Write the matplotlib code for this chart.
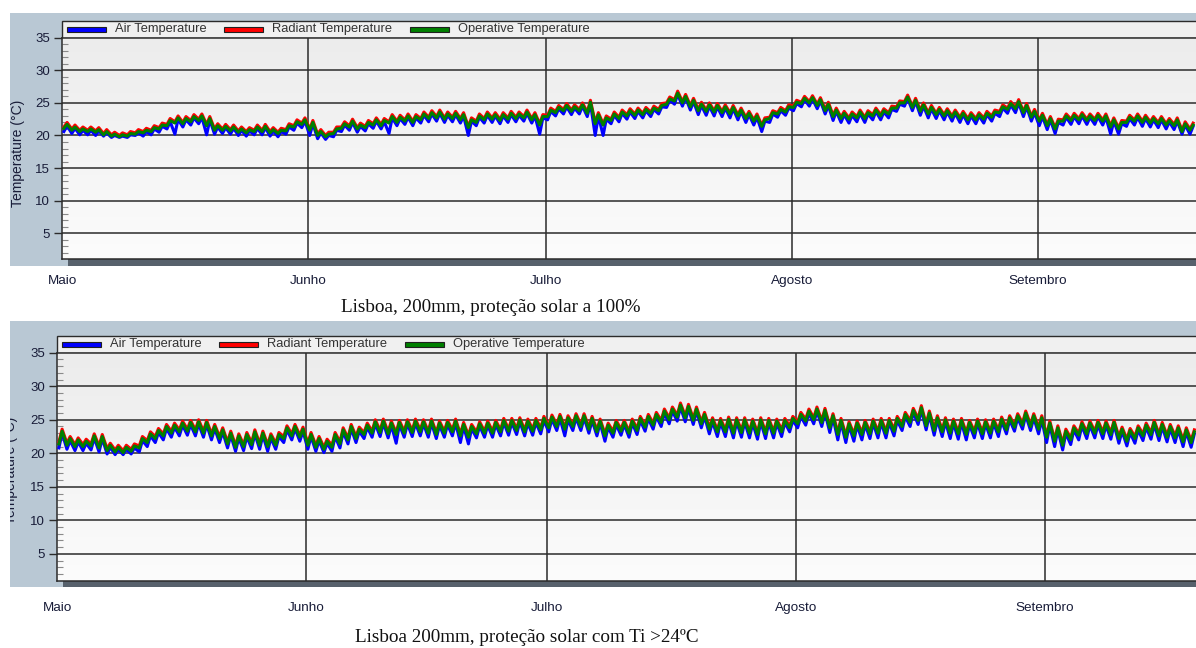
import numpy as np
import matplotlib
matplotlib.use("Agg")
import matplotlib.pyplot as plt
from matplotlib.patches import Rectangle
from matplotlib.colors import LinearSegmentedColormap
from matplotlib.transforms import blended_transform_factory

plt.rcParams["font.family"] = ["Liberation Sans", "DejaVu Sans"]

# ---------------------------------------------------------------------------
# Data: daily low / high of each temperature (degC), day 0 = 1 May
# ---------------------------------------------------------------------------
MONTHS = ["Maio", "Junho", "Julho", "Agosto", "Setembro"]
MONTH_START = [0, 31, 61, 92, 123]
SERIES_NAMES = ["Air Temperature", "Radiant Temperature", "Operative Temperature"]

# Top chart: Lisboa, 200mm, proteção solar a 100%
TOP_AIR_LO = [
    20.6, 20.3, 20.1, 20.1, 20.0, 19.9, 19.7, 19.7, 19.7, 20.0,
    19.9, 20.1, 20.5, 21.0, 20.2, 21.3, 21.6, 21.8, 20.1, 20.2,
    20.3, 20.2, 20.0, 19.9, 20.1, 20.1, 19.9, 19.8, 20.2, 20.8,
    21.2, 20.0, 19.5, 19.4, 19.8, 20.6, 20.8, 20.5, 20.7, 21.1,
    21.0, 20.3, 21.5, 21.7, 21.5, 21.9, 22.1, 22.2, 22.0, 22.1,
    21.9, 20.0, 21.5, 21.9, 22.0, 21.8, 22.0, 22.1, 22.2, 21.9,
    20.2, 22.4, 23.0, 23.3, 23.2, 23.3, 22.9, 20.0, 20.0, 21.8,
    22.1, 22.5, 22.6, 22.7, 22.9, 23.3, 24.3, 24.8, 24.5, 23.9,
    23.2, 23.1, 23.0, 22.9, 22.7, 22.4, 22.0, 21.6, 20.6, 22.0,
    22.8, 23.1, 23.8, 24.4, 24.5, 24.1, 23.3, 22.3, 22.0, 21.9,
    22.1, 22.0, 22.4, 22.4, 22.7, 23.7, 24.5, 23.8, 23.1, 22.7,
    22.6, 22.4, 22.2, 22.0, 21.8, 21.8, 21.9, 22.2, 22.9, 23.4,
    23.5, 22.9, 22.2, 21.5, 20.9, 20.3, 21.6, 21.7, 21.8, 21.7,
    21.7, 21.6, 20.2, 20.2, 21.4, 21.6, 21.4, 21.3, 21.2, 21.0,
    20.9, 20.2, 20.2]
TOP_AIR_HI = [
    21.5, 21.1, 20.8, 20.8, 20.7, 20.4, 20.0, 19.9, 20.1, 20.4,
    20.6, 21.0, 21.4, 22.1, 22.5, 22.4, 22.7, 22.8, 22.4, 21.3,
    21.2, 21.1, 20.8, 20.7, 21.1, 21.2, 20.7, 20.6, 21.3, 21.9,
    22.2, 21.8, 20.4, 20.0, 20.8, 21.6, 22.0, 21.4, 21.8, 22.2,
    22.1, 22.7, 22.6, 22.8, 22.7, 23.1, 23.3, 23.4, 23.1, 23.2,
    23.0, 22.2, 22.8, 23.1, 23.0, 23.0, 23.2, 23.1, 23.4, 23.0,
    22.7, 23.7, 24.1, 24.4, 24.2, 24.5, 24.9, 23.0, 22.5, 23.1,
    23.4, 23.6, 23.7, 23.8, 24.0, 24.4, 25.4, 26.3, 25.8, 25.2,
    24.6, 24.5, 24.4, 24.2, 24.1, 23.7, 23.2, 22.8, 22.2, 23.3,
    23.8, 24.2, 24.9, 25.5, 25.6, 25.3, 24.6, 23.7, 23.2, 23.1,
    23.4, 23.3, 23.7, 23.6, 24.0, 24.8, 25.7, 25.2, 24.5, 24.1,
    23.8, 23.6, 23.4, 23.2, 23.0, 23.0, 23.2, 23.4, 24.2, 24.7,
    25.0, 24.4, 23.5, 22.9, 22.4, 22.0, 22.8, 22.9, 23.0, 22.8,
    22.9, 22.8, 22.2, 21.8, 22.6, 22.8, 22.6, 22.4, 22.4, 22.1,
    22.2, 21.6, 21.4]
TOP_RAD_LO = [
    21.3, 21.0, 20.8, 20.8, 20.7, 20.3, 20.1, 20.0, 20.1, 20.4,
    20.6, 20.8, 21.2, 21.7, 22.1, 22.0, 22.3, 22.5, 21.7, 21.0,
    21.0, 20.9, 20.7, 20.6, 20.8, 20.8, 20.6, 20.5, 20.9, 21.5,
    21.9, 21.0, 20.2, 20.0, 20.5, 21.3, 21.5, 21.2, 21.4, 21.8,
    21.7, 22.1, 22.2, 22.4, 22.2, 22.6, 22.8, 22.9, 22.7, 22.8,
    22.6, 21.4, 22.2, 22.6, 22.7, 22.5, 22.7, 22.8, 22.9, 22.6,
    21.8, 23.1, 23.7, 24.0, 23.9, 24.0, 23.6, 22.0, 21.8, 22.5,
    22.8, 23.2, 23.3, 23.4, 23.6, 24.0, 25.0, 25.5, 25.2, 24.6,
    24.0, 23.9, 23.8, 23.7, 23.5, 23.2, 22.8, 22.4, 21.6, 22.8,
    23.5, 23.8, 24.5, 25.1, 25.2, 24.8, 24.0, 23.1, 22.8, 22.7,
    22.9, 22.8, 23.2, 23.2, 23.5, 24.4, 25.2, 24.5, 23.9, 23.5,
    23.4, 23.2, 23.0, 22.8, 22.6, 22.6, 22.7, 23.0, 23.7, 24.2,
    24.3, 23.7, 23.0, 22.4, 21.7, 21.2, 22.4, 22.5, 22.6, 22.5,
    22.5, 22.4, 21.5, 21.2, 22.2, 22.4, 22.2, 22.1, 22.0, 21.8,
    21.7, 20.8, 21.0]
TOP_RAD_HI = [
    22.0, 21.6, 21.3, 21.3, 21.2, 20.9, 20.5, 20.4, 20.6, 20.9,
    21.1, 21.5, 21.9, 22.6, 23.0, 22.9, 23.2, 23.3, 22.9, 21.8,
    21.7, 21.6, 21.3, 21.2, 21.6, 21.7, 21.2, 21.1, 21.8, 22.4,
    22.7, 22.3, 20.9, 20.5, 21.3, 22.1, 22.5, 21.9, 22.3, 22.7,
    22.6, 23.2, 23.1, 23.3, 23.2, 23.6, 23.8, 23.9, 23.6, 23.7,
    23.5, 22.7, 23.3, 23.6, 23.5, 23.5, 23.7, 23.6, 23.9, 23.5,
    23.2, 24.2, 24.6, 24.9, 24.7, 25.0, 25.4, 23.5, 23.0, 23.6,
    23.9, 24.1, 24.2, 24.3, 24.5, 24.9, 25.9, 26.8, 26.3, 25.7,
    25.1, 25.0, 24.9, 24.7, 24.6, 24.2, 23.7, 23.3, 22.7, 23.8,
    24.3, 24.7, 25.4, 26.0, 26.1, 25.8, 25.1, 24.2, 23.7, 23.6,
    23.9, 23.8, 24.2, 24.1, 24.5, 25.3, 26.2, 25.7, 25.0, 24.6,
    24.3, 24.1, 23.9, 23.7, 23.5, 23.5, 23.7, 23.9, 24.7, 25.2,
    25.5, 24.9, 24.0, 23.4, 22.9, 22.5, 23.3, 23.4, 23.5, 23.3,
    23.4, 23.3, 22.7, 22.3, 23.1, 23.3, 23.1, 22.9, 22.9, 22.6,
    22.7, 22.1, 21.9]
TOP_OP_LO = [
    21.1, 20.8, 20.6, 20.6, 20.5, 20.1, 19.9, 19.8, 19.9, 20.2,
    20.4, 20.6, 21.0, 21.5, 21.9, 21.8, 22.1, 22.3, 21.5, 20.8,
    20.8, 20.7, 20.5, 20.4, 20.6, 20.6, 20.4, 20.3, 20.7, 21.3,
    21.7, 20.8, 20.0, 19.8, 20.3, 21.1, 21.3, 21.0, 21.2, 21.6,
    21.5, 21.9, 22.0, 22.2, 22.0, 22.4, 22.6, 22.7, 22.5, 22.6,
    22.4, 21.2, 22.0, 22.4, 22.5, 22.3, 22.5, 22.6, 22.7, 22.4,
    21.6, 22.9, 23.5, 23.8, 23.7, 23.8, 23.4, 21.8, 21.6, 22.3,
    22.6, 23.0, 23.1, 23.2, 23.4, 23.8, 24.8, 25.3, 25.0, 24.4,
    23.8, 23.7, 23.6, 23.5, 23.3, 23.0, 22.6, 22.2, 21.4, 22.6,
    23.3, 23.6, 24.3, 24.9, 25.0, 24.6, 23.8, 22.9, 22.6, 22.5,
    22.7, 22.6, 23.0, 23.0, 23.3, 24.2, 25.0, 24.3, 23.7, 23.3,
    23.2, 23.0, 22.8, 22.6, 22.4, 22.4, 22.5, 22.8, 23.5, 24.0,
    24.1, 23.5, 22.8, 22.2, 21.5, 21.0, 22.2, 22.3, 22.4, 22.3,
    22.3, 22.2, 21.3, 21.0, 22.0, 22.2, 22.0, 21.9, 21.8, 21.6,
    21.5, 20.6, 20.8]
TOP_OP_HI = [
    21.7, 21.3, 21.0, 21.0, 20.9, 20.6, 20.2, 20.1, 20.3, 20.6,
    20.8, 21.2, 21.6, 22.3, 22.7, 22.6, 22.9, 23.0, 22.6, 21.5,
    21.4, 21.3, 21.0, 20.9, 21.3, 21.4, 20.9, 20.8, 21.5, 22.1,
    22.4, 22.0, 20.6, 20.2, 21.0, 21.8, 22.2, 21.6, 22.0, 22.4,
    22.3, 22.9, 22.8, 23.0, 22.9, 23.3, 23.5, 23.6, 23.3, 23.4,
    23.2, 22.4, 23.0, 23.3, 23.2, 23.2, 23.4, 23.3, 23.6, 23.2,
    22.9, 23.9, 24.3, 24.6, 24.4, 24.7, 25.1, 23.2, 22.7, 23.3,
    23.6, 23.8, 23.9, 24.0, 24.2, 24.6, 25.6, 26.5, 26.0, 25.4,
    24.8, 24.7, 24.6, 24.4, 24.3, 23.9, 23.4, 23.0, 22.4, 23.5,
    24.0, 24.4, 25.1, 25.7, 25.8, 25.5, 24.8, 23.9, 23.4, 23.3,
    23.6, 23.5, 23.9, 23.8, 24.2, 25.0, 25.9, 25.4, 24.7, 24.3,
    24.0, 23.8, 23.6, 23.4, 23.2, 23.2, 23.4, 23.6, 24.4, 24.9,
    25.2, 24.6, 23.7, 23.1, 22.6, 22.2, 23.0, 23.1, 23.2, 23.0,
    23.1, 23.0, 22.4, 22.0, 22.8, 23.0, 22.8, 22.6, 22.6, 22.3,
    22.4, 21.8, 21.6]

# Bottom chart: Lisboa 200mm, proteção solar com Ti >24ºC
BOT_AIR_LO = [
    20.8, 20.6, 20.4, 20.4, 20.5, 20.2, 19.9, 19.8, 19.8, 19.9,
    20.2, 21.0, 21.6, 22.0, 22.4, 22.6, 22.7, 22.6, 22.4, 22.0,
    21.6, 20.8, 20.3, 20.4, 20.7, 20.6, 20.3, 20.6, 21.6, 22.0,
    21.8, 20.6, 20.3, 20.1, 20.3, 20.8, 21.4, 21.6, 22.2, 22.4,
    22.5, 22.3, 21.5, 22.4, 22.5, 22.6, 22.4, 22.2, 22.4, 22.6,
    21.6, 21.4, 22.3, 22.4, 22.4, 22.6, 22.7, 22.8, 22.6, 22.7,
    22.9, 23.2, 23.4, 22.6, 23.4, 23.4, 23.0, 22.6, 21.8, 22.4,
    22.7, 22.4, 22.8, 23.3, 23.6, 24.0, 24.4, 24.8, 24.7, 24.3,
    23.8, 22.9, 22.5, 22.5, 22.3, 22.4, 22.3, 22.1, 22.2, 22.3,
    22.5, 23.2, 23.8, 24.2, 24.4, 24.0, 23.1, 22.0, 21.6, 21.8,
    22.0, 22.2, 22.3, 22.3, 22.6, 23.4, 24.0, 24.3, 23.5, 22.7,
    22.5, 22.2, 22.1, 22.0, 22.3, 22.2, 22.3, 22.5, 22.9, 23.3,
    23.6, 23.4, 22.9, 21.6, 21.0, 20.5, 21.3, 22.0, 22.2, 22.3,
    22.2, 22.1, 21.5, 21.1, 21.5, 21.9, 22.1, 21.9, 21.7, 21.6,
    21.0, 20.9]
BOT_AIR_HI = [
    23.0, 21.9, 21.7, 21.5, 22.3, 22.2, 20.9, 20.6, 20.6, 20.8,
    21.9, 22.6, 23.1, 23.7, 23.9, 24.2, 24.3, 24.4, 24.3, 23.7,
    23.2, 22.7, 22.3, 22.5, 22.9, 22.7, 22.3, 22.5, 23.5, 23.7,
    23.3, 22.5, 21.9, 21.5, 22.5, 23.2, 23.7, 23.3, 23.9, 24.4,
    24.5, 24.2, 24.3, 24.4, 24.5, 24.4, 24.5, 24.2, 24.3, 24.5,
    24.0, 23.7, 24.1, 24.2, 24.3, 24.6, 24.6, 24.7, 24.5, 24.6,
    24.9, 25.1, 25.2, 25.0, 25.3, 25.3, 24.9, 24.5, 23.9, 24.3,
    24.3, 24.5, 24.9, 25.2, 25.5, 26.0, 26.3, 26.9, 26.7, 26.3,
    25.5, 24.7, 24.6, 24.8, 24.7, 24.7, 24.5, 24.7, 24.6, 24.5,
    24.6, 24.9, 25.5, 26.0, 26.3, 26.1, 25.3, 24.6, 24.1, 24.2,
    24.3, 24.5, 24.6, 24.6, 24.9, 25.5, 26.1, 26.5, 25.7, 25.0,
    24.7, 24.5, 24.6, 24.3, 24.5, 24.4, 24.5, 24.8, 25.0, 25.3,
    25.7, 25.3, 25.0, 24.2, 23.5, 23.0, 23.5, 24.1, 24.2, 24.3,
    24.2, 24.3, 23.3, 23.1, 23.5, 23.9, 24.3, 24.0, 23.7, 23.5,
    23.2, 22.9]
BOT_RAD_LO = [
    21.7, 21.5, 21.3, 21.3, 21.4, 21.1, 20.7, 20.5, 20.4, 20.6,
    21.1, 21.9, 22.5, 22.9, 23.3, 23.5, 23.6, 23.5, 23.3, 22.9,
    22.5, 21.7, 21.2, 21.3, 21.6, 21.5, 21.3, 21.5, 22.5, 22.9,
    22.7, 21.5, 21.2, 20.9, 21.2, 21.7, 22.3, 22.5, 23.1, 23.3,
    23.4, 23.2, 23.1, 23.3, 23.4, 23.5, 23.3, 23.1, 23.3, 23.5,
    22.9, 22.7, 23.2, 23.3, 23.3, 23.5, 23.6, 23.7, 23.5, 23.6,
    23.8, 24.1, 24.3, 23.9, 24.3, 24.3, 23.9, 23.5, 22.9, 23.3,
    23.6, 23.3, 23.7, 24.2, 24.5, 24.9, 25.3, 25.7, 25.6, 25.2,
    24.7, 23.9, 23.5, 23.5, 23.3, 23.4, 23.3, 23.1, 23.2, 23.3,
    23.5, 24.1, 24.7, 25.1, 25.3, 24.9, 24.1, 23.1, 22.7, 22.9,
    23.1, 23.2, 23.3, 23.3, 23.6, 24.3, 24.9, 25.2, 24.4, 23.7,
    23.5, 23.3, 23.2, 23.1, 23.3, 23.2, 23.3, 23.5, 23.8, 24.2,
    24.5, 24.3, 23.9, 22.7, 22.1, 21.5, 22.3, 23.0, 23.2, 23.3,
    23.2, 23.1, 22.5, 22.1, 22.5, 22.9, 23.1, 22.9, 22.7, 22.6,
    22.0, 21.9]
BOT_RAD_HI = [
    23.6, 22.5, 22.3, 22.1, 22.9, 22.8, 21.5, 21.2, 21.2, 21.4,
    22.5, 23.2, 23.7, 24.3, 24.5, 24.8, 24.9, 25.0, 24.9, 24.3,
    23.8, 23.3, 22.9, 23.1, 23.5, 23.3, 22.9, 23.1, 24.1, 24.3,
    23.9, 23.1, 22.5, 22.1, 23.1, 23.8, 24.3, 23.9, 24.5, 25.0,
    25.1, 24.8, 24.9, 25.0, 25.1, 25.0, 25.1, 24.8, 24.9, 25.1,
    24.6, 24.3, 24.7, 24.8, 24.9, 25.2, 25.2, 25.3, 25.1, 25.2,
    25.5, 25.7, 25.8, 25.6, 25.9, 25.9, 25.5, 25.1, 24.5, 24.9,
    24.9, 25.1, 25.5, 25.8, 26.1, 26.6, 26.9, 27.5, 27.3, 26.9,
    26.1, 25.3, 25.2, 25.4, 25.3, 25.3, 25.1, 25.3, 25.2, 25.1,
    25.2, 25.5, 26.1, 26.6, 26.9, 26.7, 25.9, 25.2, 24.7, 24.8,
    24.9, 25.1, 25.2, 25.2, 25.5, 26.1, 26.7, 27.1, 26.3, 25.6,
    25.3, 25.1, 25.2, 24.9, 25.1, 25.0, 25.1, 25.4, 25.6, 25.9,
    26.3, 25.9, 25.6, 24.8, 24.1, 23.6, 24.1, 24.7, 24.8, 24.9,
    24.8, 24.9, 23.9, 23.7, 24.1, 24.5, 24.9, 24.6, 24.3, 24.1,
    23.8, 23.5]
BOT_OP_LO = [
    21.4, 21.2, 21.0, 21.0, 21.1, 20.8, 20.4, 20.2, 20.1, 20.3,
    20.8, 21.6, 22.2, 22.6, 23.0, 23.2, 23.3, 23.2, 23.0, 22.6,
    22.2, 21.4, 20.9, 21.0, 21.3, 21.2, 21.0, 21.2, 22.2, 22.6,
    22.4, 21.2, 20.9, 20.6, 20.9, 21.4, 22.0, 22.2, 22.8, 23.0,
    23.1, 22.9, 22.8, 23.0, 23.1, 23.2, 23.0, 22.8, 23.0, 23.2,
    22.6, 22.4, 22.9, 23.0, 23.0, 23.2, 23.3, 23.4, 23.2, 23.3,
    23.5, 23.8, 24.0, 23.6, 24.0, 24.0, 23.6, 23.2, 22.6, 23.0,
    23.3, 23.0, 23.4, 23.9, 24.2, 24.6, 25.0, 25.4, 25.3, 24.9,
    24.4, 23.6, 23.2, 23.2, 23.0, 23.1, 23.0, 22.8, 22.9, 23.0,
    23.2, 23.8, 24.4, 24.8, 25.0, 24.6, 23.8, 22.8, 22.4, 22.6,
    22.8, 22.9, 23.0, 23.0, 23.3, 24.0, 24.6, 24.9, 24.1, 23.4,
    23.2, 23.0, 22.9, 22.8, 23.0, 22.9, 23.0, 23.2, 23.5, 23.9,
    24.2, 24.0, 23.6, 22.4, 21.8, 21.2, 22.0, 22.7, 22.9, 23.0,
    22.9, 22.8, 22.2, 21.8, 22.2, 22.6, 22.8, 22.6, 22.4, 22.3,
    21.7, 21.6]
BOT_OP_HI = [
    23.3, 22.2, 22.0, 21.8, 22.6, 22.5, 21.2, 20.9, 20.9, 21.1,
    22.2, 22.9, 23.4, 24.0, 24.2, 24.5, 24.6, 24.7, 24.6, 24.0,
    23.5, 23.0, 22.6, 22.8, 23.2, 23.0, 22.6, 22.8, 23.8, 24.0,
    23.6, 22.8, 22.2, 21.8, 22.8, 23.5, 24.0, 23.6, 24.2, 24.7,
    24.8, 24.5, 24.6, 24.7, 24.8, 24.7, 24.8, 24.5, 24.6, 24.8,
    24.3, 24.0, 24.4, 24.5, 24.6, 24.9, 24.9, 25.0, 24.8, 24.9,
    25.2, 25.4, 25.5, 25.3, 25.6, 25.6, 25.2, 24.8, 24.2, 24.6,
    24.6, 24.8, 25.2, 25.5, 25.8, 26.3, 26.6, 27.2, 27.0, 26.6,
    25.8, 25.0, 24.9, 25.1, 25.0, 25.0, 24.8, 25.0, 24.9, 24.8,
    24.9, 25.2, 25.8, 26.3, 26.6, 26.4, 25.6, 24.9, 24.4, 24.5,
    24.6, 24.8, 24.9, 24.9, 25.2, 25.8, 26.4, 26.8, 26.0, 25.3,
    25.0, 24.8, 24.9, 24.6, 24.8, 24.7, 24.8, 25.1, 25.3, 25.6,
    26.0, 25.6, 25.3, 24.5, 23.8, 23.3, 23.8, 24.4, 24.5, 24.6,
    24.5, 24.6, 23.6, 23.4, 23.8, 24.2, 24.6, 24.3, 24.0, 23.8,
    23.5, 23.2]

# ---------------------------------------------------------------------------
# Layout (pixels of the 1196 x 648 picture)
# ---------------------------------------------------------------------------
W, H = 1196, 648
COLORS = ["#0000ff", "#ff0000", "#008000"]
BG_COLOR = "#b9c8d4"
INK = "#181c38"
GRID = "#2b2b2b"


def fx(x):
    return x / W


def fy(y):
    return 1 - y / H


def add_series(ax, lo, hi, color, z):
    """Draw one series as alternating night low / afternoon high."""
    days = np.arange(len(lo))
    t = np.empty(2 * len(lo))
    v = np.empty(2 * len(lo))
    t[0::2] = days + 0.2
    t[1::2] = days + 0.6
    v[0::2] = lo
    v[1::2] = hi
    ax.plot(t, v, color=color, lw=2.2, zorder=z)


def draw_panel(fig, left, top, bottom, bg_top, bg_bottom, px_day, series,
               caption, cap_x, cap_y, month_y, label_x, label_y):

    # Blue-grey frame
    bg = Rectangle((fx(10), fy(bg_bottom)), 1 - fx(10), fy(bg_top) - fy(bg_bottom),
                   transform=fig.transFigure, facecolor=BG_COLOR,
                   edgecolor="none", zorder=-2)
    fig.add_artist(bg)

    # Dark shadow bar under the plot
    fig.add_artist(Rectangle((fx(left + 6), fy(bg_bottom)), 1 - fx(left + 6),
                             fy(bottom) - fy(bg_bottom), transform=fig.transFigure,
                             facecolor="#57616c", edgecolor="none", zorder=-1))

    # Legend strip above the plot
    leg_top = top - 16.5
    fig.add_artist(Rectangle((fx(left), fy(top)), 1.2 - fx(left), fy(leg_top) - fy(top),
                             transform=fig.transFigure, facecolor="#f0f0f0",
                             edgecolor=GRID, lw=1.0, zorder=-1))
    leg_y = (top + leg_top) / 2
    for k, name in enumerate(SERIES_NAMES):
        x0 = left + [4.5, 161.5, 347.5][k]
        fig.add_artist(Rectangle((fx(x0), fy(leg_y + 2.8)), fx(39), 5.6 / H,
                                 transform=fig.transFigure, facecolor=COLORS[k],
                                 edgecolor="#202020", lw=0.8, zorder=2))
        fig.text(fx(x0 + 48), fy(leg_y), name, fontsize=9.3, color="#333333",
                 ha="left", va="center")

    # Plot area
    ax = fig.add_axes([fx(left), fy(bottom), 1 - fx(left), fy(top) - fy(bottom)])
    xmax = (W - left) / px_day
    ax.set_xlim(0, xmax)
    ax.set_ylim(1, 35)

    grad = np.linspace(0, 1, 100).reshape(-1, 1)
    cmap = LinearSegmentedColormap.from_list("bg", ["#fcfcfc", "#ececec"])
    ax.imshow(grad, extent=[0, xmax, 1, 35], origin="lower", aspect="auto",
              cmap=cmap, zorder=0)

    for k, (lo, hi) in enumerate(series):
        add_series(ax, lo, hi, COLORS[k], 3 + k)

    # Grid
    for d in MONTH_START[1:]:
        ax.axvline(d, color=GRID, lw=1.1, zorder=2)
    for v in range(5, 35, 5):
        ax.axhline(v, color=GRID, lw=1.1, zorder=2)

    # Ticks
    ax.set_xticks([])
    ax.set_yticks(range(5, 36, 5))
    ax.set_yticks([v for v in range(2, 35) if v % 5 != 0], minor=True)
    ax.tick_params(axis="y", which="major", direction="out", length=6,
                   width=1.0, color=GRID, pad=3, labelsize=9.5, labelcolor=INK)
    ax.tick_params(axis="y", which="minor", direction="in", length=4,
                   width=0.8, color="#8a8a8a")

    for s in ["left", "bottom", "top"]:
        ax.spines[s].set_color(GRID)
        ax.spines[s].set_linewidth(1.1)
    ax.spines["right"].set_visible(False)

    # Month labels below
    trans = blended_transform_factory(ax.transData, fig.transFigure)
    for name, d in zip(MONTHS, MONTH_START):
        ax.text(d, fy(month_y), name, transform=trans, ha="center", va="center",
                fontsize=9.7, color=INK, clip_on=False)

    # Y label, clipped by the frame
    t = fig.text(fx(label_x), fy(label_y), "Temperature (°C)", rotation=90,
                 ha="center", va="center", fontsize=10, color=INK)
    t.set_clip_path(bg)

    # Caption
    fig.text(fx(cap_x), fy(cap_y), caption, ha="center", va="center",
             fontsize=13.8, family=["Liberation Serif", "DejaVu Serif"], color="#111111")

    return ax


fig = plt.figure(figsize=(W / 100, H / 100), dpi=100)

draw_panel(fig, left=62.3, top=37.7, bottom=259.3, bg_top=13, bg_bottom=266,
           px_day=7.93,
           series=[(TOP_AIR_LO, TOP_AIR_HI), (TOP_RAD_LO, TOP_RAD_HI),
                   (TOP_OP_LO, TOP_OP_HI)],
           caption="Lisboa, 200mm, proteção solar a 100%", cap_x=491, cap_y=307,
           month_y=281, label_x=18.5, label_y=153)

draw_panel(fig, left=57.3, top=352.7, bottom=580.7, bg_top=321, bg_bottom=587,
           px_day=8.03,
           series=[(BOT_AIR_LO, BOT_AIR_HI), (BOT_RAD_LO, BOT_RAD_HI),
                   (BOT_OP_LO, BOT_OP_HI)],
           caption="Lisboa 200mm, proteção solar com Ti >24ºC", cap_x=527, cap_y=638,
           month_y=608, label_x=11.5, label_y=470)

fig.savefig("out.png", dpi=100)
